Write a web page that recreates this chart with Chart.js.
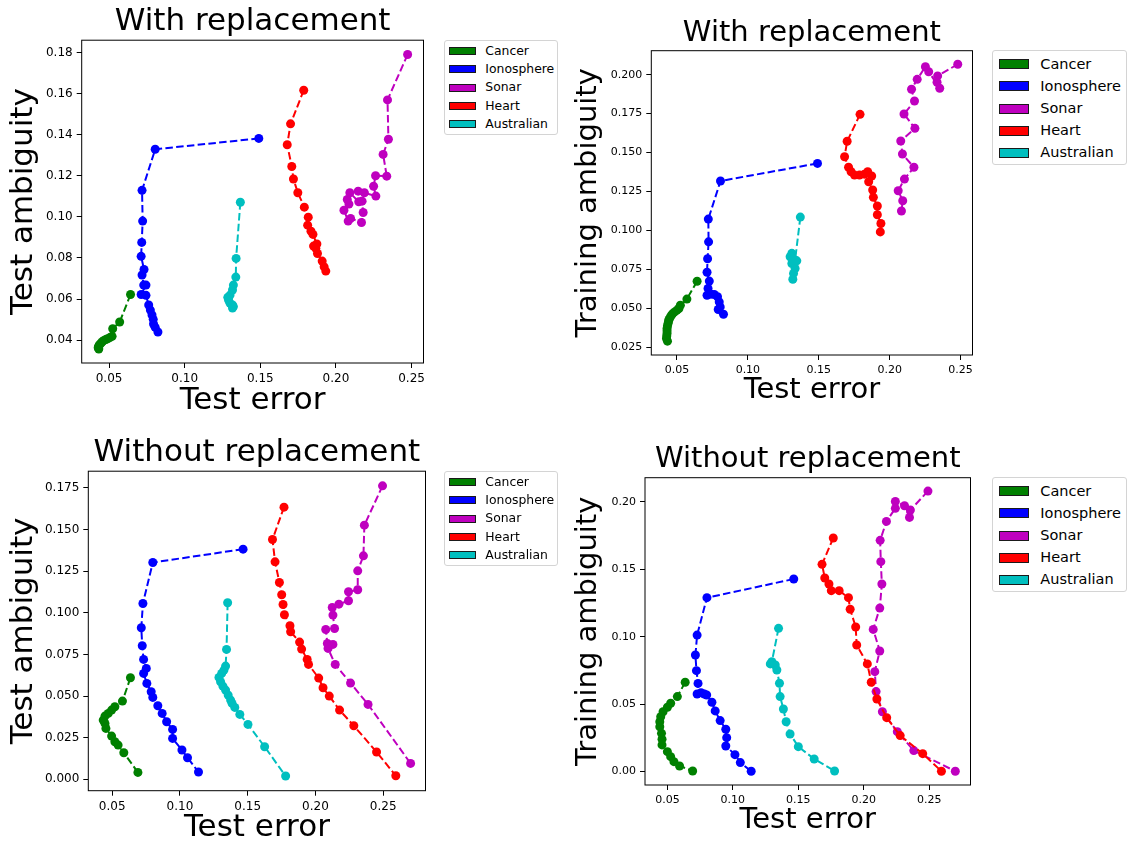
<!DOCTYPE html>
<html>
<head>
<meta charset="utf-8">
<script src="https://cdn.jsdelivr.net/npm/chart.js@4.4.1/dist/chart.umd.min.js"></script>
<style>
    body { margin: 0; background: #fff; overflow: hidden; width: 1127px; height: 842px; position: relative; font-family: "DejaVu Sans", sans-serif; }
    canvas { position: absolute; }
    .legend { position: absolute; box-sizing: border-box; border: 1px solid #d4d4d4; border-radius: 3px; background: rgba(255, 255, 255, 0.8); }
    .legend .swatch { position: absolute; box-sizing: border-box; border: 1px solid #1a1a1a; }
    .legend .name { position: absolute; white-space: nowrap; color: #000; }
</style>
</head>
<body>
<canvas id="withTest" width="428" height="430" style="left:0px;top:0px"></canvas>
<canvas id="withTrain" width="417" height="430" style="left:560px;top:0px"></canvas>
<canvas id="withoutTest" width="430" height="430" style="left:0px;top:420px"></canvas>
<canvas id="withoutTrain" width="420" height="430" style="left:555px;top:420px"></canvas>
<div id="legends"></div>
<script>
const seriesNames = ['Cancer', 'Ionosphere', 'Sonar', 'Heart', 'Australian'];
const seriesColors = ['#008000', '#0000ff', '#bf00bf', '#ff0000', '#00bfbf'];

// with replacement: test error vs test ambiguity
const wrTestCancer = [[0.0642,0.0622],[0.0570,0.0488],[0.0524,0.0455],[0.0520,0.0418],[0.0505,0.0412],[0.0490,0.0406],[0.0478,0.0402],[0.0466,0.0398],[0.0455,0.0392],[0.0448,0.0386],[0.0440,0.0380],[0.0434,0.0374],[0.0430,0.0368],[0.0428,0.0362],[0.0432,0.0356]];
const wrTestIono = [[0.1490,0.1383],[0.0805,0.1330],[0.0718,0.1130],[0.0722,0.0980],[0.0716,0.0876],[0.0712,0.0808],[0.0731,0.0744],[0.0718,0.0717],[0.0729,0.0668],[0.0744,0.0668],[0.0712,0.0622],[0.0744,0.0618],[0.0762,0.0571],[0.0773,0.0546],[0.0784,0.0522],[0.0792,0.0501],[0.0794,0.0478],[0.0805,0.0462],[0.0823,0.0439]];
const wrTestSonar = [[0.2474,0.1792],[0.2341,0.1571],[0.2347,0.1379],[0.2312,0.1305],[0.2336,0.1199],[0.2262,0.1201],[0.2249,0.1150],[0.2264,0.1102],[0.2188,0.1118],[0.2147,0.1126],[0.2173,0.1077],[0.2180,0.1022],[0.2169,0.0973],[0.2097,0.0993],[0.2081,0.0980],[0.2053,0.1033],[0.2086,0.1063],[0.2075,0.1085],[0.2092,0.1118],[0.2151,0.1074]];
const wrTestHeart = [[0.1787,0.1618],[0.1700,0.1454],[0.1678,0.1352],[0.1708,0.1246],[0.1719,0.1185],[0.1748,0.1118],[0.1791,0.1048],[0.1817,0.0999],[0.1813,0.0960],[0.1835,0.0931],[0.1848,0.0915],[0.1874,0.0868],[0.1852,0.0858],[0.1867,0.0847],[0.1878,0.0822],[0.1909,0.0785],[0.1922,0.0757],[0.1933,0.0736]];
const wrTestAus = [[0.1368,0.1072],[0.1340,0.0798],[0.1338,0.0707],[0.1322,0.0668],[0.1316,0.0644],[0.1300,0.0619],[0.1285,0.0608],[0.1290,0.0595],[0.1300,0.0579],[0.1316,0.0571],[0.1322,0.0563],[0.1316,0.0556]];

// with replacement: test error vs training ambiguity
const wrTrainCancer = [[0.0642,0.0673],[0.0570,0.0558],[0.0524,0.0519],[0.0514,0.0498],[0.0500,0.0487],[0.0484,0.0476],[0.0470,0.0465],[0.0461,0.0455],[0.0452,0.0441],[0.0444,0.0427],[0.0440,0.0414],[0.0437,0.0401],[0.0433,0.0385],[0.0430,0.0369],[0.0430,0.0353],[0.0430,0.0337],[0.0428,0.0321],[0.0426,0.0305],[0.0433,0.0288]];
const wrTrainIono = [[0.1491,0.1430],[0.0807,0.1317],[0.0721,0.1072],[0.0723,0.0926],[0.0716,0.0817],[0.0712,0.0731],[0.0728,0.0674],[0.0719,0.0627],[0.0712,0.0583],[0.0740,0.0590],[0.0763,0.0588],[0.0786,0.0573],[0.0798,0.0540],[0.0805,0.0508],[0.0791,0.0491],[0.0828,0.0461]];
const wrTrainSonar = [[0.2480,0.2067],[0.2338,0.1992],[0.2334,0.1951],[0.2353,0.1913],[0.2275,0.2019],[0.2252,0.2051],[0.2194,0.1970],[0.2154,0.1906],[0.2175,0.1831],[0.2101,0.1747],[0.2178,0.1655],[0.2078,0.1574],[0.2090,0.1490],[0.2171,0.1405],[0.2104,0.1329],[0.2060,0.1254],[0.2092,0.1190],[0.2083,0.1124]];
const wrTrainHeart = [[0.1791,0.1745],[0.1700,0.1572],[0.1682,0.1473],[0.1710,0.1405],[0.1728,0.1376],[0.1752,0.1355],[0.1787,0.1355],[0.1822,0.1361],[0.1845,0.1376],[0.1873,0.1349],[0.1852,0.1312],[0.1880,0.1259],[0.1885,0.1212],[0.1913,0.1156],[0.1913,0.1100],[0.1938,0.1044],[0.1934,0.0990]];
const wrTrainAus = [[0.1370,0.1085],[0.1333,0.0809],[0.1345,0.0804],[0.1310,0.0852],[0.1298,0.0830],[0.1310,0.0787],[0.1333,0.0755],[0.1322,0.0723],[0.1317,0.0686]];

// without replacement: test error vs test ambiguity
const worTestCancer = [[0.0635,0.0610],[0.0576,0.0470],[0.0520,0.0436],[0.0496,0.0416],[0.0471,0.0396],[0.0447,0.0380],[0.0434,0.0356],[0.0447,0.0336],[0.0454,0.0306],[0.0496,0.0260],[0.0520,0.0226],[0.0544,0.0206],[0.0586,0.0160],[0.0690,0.0042]];
const worTestIono = [[0.1466,0.1382],[0.0800,0.1302],[0.0727,0.1056],[0.0715,0.0910],[0.0722,0.0802],[0.0732,0.0720],[0.0752,0.0666],[0.0732,0.0636],[0.0756,0.0576],[0.0788,0.0526],[0.0800,0.0492],[0.0837,0.0442],[0.0869,0.0396],[0.0902,0.0346],[0.0946,0.0300],[0.0946,0.0246],[0.1015,0.0176],[0.1056,0.0130],[0.1137,0.0044]];
const worTestSonar = [[0.2495,0.1762],[0.2361,0.1526],[0.2354,0.1342],[0.2312,0.1252],[0.2312,0.1138],[0.2244,0.1126],[0.2244,0.1072],[0.2173,0.1052],[0.2124,0.1032],[0.2129,0.0986],[0.2141,0.0906],[0.2076,0.0900],[0.2088,0.0816],[0.2129,0.0810],[0.2093,0.0786],[0.2146,0.0690],[0.2259,0.0578],[0.2388,0.0450],[0.2702,0.0096]];
const worTestHeart = [[0.1768,0.1634],[0.1683,0.1440],[0.1702,0.1306],[0.1734,0.1182],[0.1751,0.1108],[0.1761,0.1050],[0.1771,0.0988],[0.1812,0.0922],[0.1817,0.0886],[0.1883,0.0824],[0.1898,0.0782],[0.1939,0.0720],[0.1949,0.0690],[0.2024,0.0608],[0.2056,0.0550],[0.2102,0.0500],[0.2178,0.0416],[0.2283,0.0322],[0.2451,0.0164],[0.2593,0.0022]];
const worTestAus = [[0.1352,0.1060],[0.1344,0.0780],[0.1337,0.0680],[0.1325,0.0656],[0.1308,0.0636],[0.1288,0.0612],[0.1300,0.0586],[0.1317,0.0560],[0.1337,0.0536],[0.1356,0.0506],[0.1374,0.0476],[0.1385,0.0456],[0.1405,0.0432],[0.1442,0.0390],[0.1502,0.0330],[0.1625,0.0196],[0.1780,0.0020]];

// without replacement: test error vs training ambiguity
const worTrainCancer = [[0.0636,0.0662],[0.0576,0.0556],[0.0525,0.0507],[0.0500,0.0477],[0.0467,0.0444],[0.0449,0.0407],[0.0442,0.0370],[0.0442,0.0333],[0.0455,0.0284],[0.0459,0.0240],[0.0459,0.0198],[0.0500,0.0148],[0.0525,0.0111],[0.0550,0.0074],[0.0593,0.0042],[0.0693,0.0005]];
const worTrainIono = [[0.1465,0.1427],[0.0802,0.1289],[0.0727,0.1012],[0.0714,0.0864],[0.0722,0.0748],[0.0734,0.0654],[0.0727,0.0575],[0.0757,0.0585],[0.0782,0.0575],[0.0800,0.0568],[0.0840,0.0514],[0.0865,0.0450],[0.0903,0.0378],[0.0946,0.0314],[0.0953,0.0252],[0.0946,0.0190],[0.1016,0.0126],[0.1057,0.0067],[0.1140,0.0003]];
const worTrainSonar = [[0.2490,0.2079],[0.2356,0.1938],[0.2349,0.1884],[0.2311,0.1970],[0.2241,0.2002],[0.2241,0.1951],[0.2173,0.1854],[0.2125,0.1714],[0.2130,0.1556],[0.2138,0.1390],[0.2122,0.1212],[0.2072,0.1054],[0.2122,0.0894],[0.2084,0.0741],[0.2094,0.0593],[0.2142,0.0444],[0.2256,0.0296],[0.2382,0.0156],[0.2699,0.0003]];
const worTrainHeart = [[0.1767,0.1731],[0.1681,0.1536],[0.1702,0.1435],[0.1734,0.1390],[0.1752,0.1341],[0.1812,0.1341],[0.1883,0.1289],[0.1896,0.1203],[0.1938,0.1072],[0.1946,0.0938],[0.2027,0.0798],[0.2057,0.0662],[0.2100,0.0538],[0.2175,0.0400],[0.2278,0.0267],[0.2450,0.0133],[0.2593,0.0003]];
const worTrainAus = [[0.1349,0.1062],[0.1298,0.0815],[0.1286,0.0798],[0.1324,0.0790],[0.1336,0.0753],[0.1356,0.0655],[0.1361,0.0556],[0.1386,0.0464],[0.1407,0.0370],[0.1437,0.0279],[0.1500,0.0185],[0.1621,0.0094],[0.1777,0.0005]];

Chart.defaults.font.family = "'DejaVu Sans', sans-serif";
Chart.defaults.color = '#000';

// box around each axes area, drawn over the lines like matplotlib spines
const framePlugin = {
    id: 'frame',
    afterDatasetsDraw: function(chart) {
        const a = chart.chartArea;
        const c = chart.ctx;
        c.save();
        c.strokeStyle = '#000';
        c.lineWidth = 1;
        c.strokeRect(a.left, a.top, a.right - a.left, a.bottom - a.top);
        c.restore();
    }
};

function RenderPanel(canvasId, series, cfg) {
    const ctx = document.getElementById(canvasId);

    const datasets = series.map(function(points, i) {
        return {
            label: seriesNames[i],
            data: points.map(function(p) { return { x: p[0], y: p[1] }; }),
            showLine: true,
            borderColor: seriesColors[i],
            backgroundColor: seriesColors[i],
            borderWidth: 2,
            borderDash: [7.5, 3.3],
            pointRadius: 4.5,
            pointHoverRadius: 4.5,
            pointBorderWidth: 0,
            order: series.length - i
        };
    });

    return new Chart(ctx, {
        type: 'scatter',
        data: { datasets: datasets },
        options: {
            responsive: false,
            animation: false,
            events: [],
            layout: { padding: cfg.padding },
            plugins: {
                legend: { display: false },
                tooltip: { enabled: false },
                title: {
                    display: true,
                    text: cfg.title,
                    fullSize: false,
                    color: '#000',
                    font: { size: cfg.bigFont, weight: 'normal' },
                    padding: cfg.titlePad
                }
            },
            scales: {
                x: {
                    type: 'linear',
                    min: cfg.xRange[0],
                    max: cfg.xRange[1],
                    border: { display: false },
                    grid: { drawOnChartArea: false, drawTicks: true, tickLength: 5, color: '#000' },
                    ticks: {
                        stepSize: 0.05,
                        includeBounds: false,
                        maxRotation: 0,
                        padding: 4,
                        color: '#000',
                        font: { size: cfg.tickFont },
                        callback: function(value) { return value.toFixed(2); }
                    },
                    title: {
                        display: true,
                        text: 'Test error',
                        color: '#000',
                        font: { size: cfg.bigFont },
                        padding: { top: 0, bottom: 0 }
                    },
                    afterFit: function(scale) {
                        scale.height = cfg.xHeight;
                        scale.paddingLeft = 0;
                        scale.paddingRight = 0;
                    }
                },
                y: {
                    type: 'linear',
                    min: cfg.yRange[0],
                    max: cfg.yRange[1],
                    border: { display: false },
                    grid: { drawOnChartArea: false, drawTicks: true, tickLength: 5, color: '#000' },
                    ticks: {
                        stepSize: cfg.yStep,
                        includeBounds: false,
                        padding: 4,
                        color: '#000',
                        font: { size: cfg.tickFont },
                        callback: function(value) { return value.toFixed(cfg.yDigits); }
                    },
                    title: {
                        display: true,
                        text: cfg.yTitle,
                        color: '#000',
                        font: { size: cfg.bigFont },
                        padding: { top: cfg.yTitlePad, bottom: 0 }
                    },
                    afterFit: function(scale) {
                        scale.width = cfg.yWidth;
                        scale.paddingTop = 0;
                        scale.paddingBottom = 0;
                    }
                }
            }
        },
        plugins: [framePlugin]
    });
}

function RenderLegend(box) {
    const el = document.createElement('div');
    el.className = 'legend';
    el.style.left = box.left + 'px';
    el.style.top = box.top + 'px';
    el.style.width = box.width + 'px';
    el.style.height = box.height + 'px';
    seriesNames.forEach(function(name, i) {
        const cy = box.firstRow + i * box.rowStep;
        const sw = document.createElement('div');
        sw.className = 'swatch';
        sw.style.left = box.swatchX + 'px';
        sw.style.top = (cy - box.swatchH / 2) + 'px';
        sw.style.width = box.swatchW + 'px';
        sw.style.height = box.swatchH + 'px';
        sw.style.background = seriesColors[i];
        el.appendChild(sw);
        const label = document.createElement('div');
        label.className = 'name';
        label.textContent = name;
        label.style.left = box.textX + 'px';
        label.style.top = (cy - box.font / 2) + 'px';
        label.style.fontSize = box.font + 'px';
        label.style.lineHeight = box.font + 'px';
        el.appendChild(label);
    });
    document.getElementById('legends').appendChild(el);
}

RenderPanel('withTest', [wrTestCancer, wrTestIono, wrTestSonar, wrTestHeart, wrTestAus], {
    title: 'With replacement', yTitle: 'Test ambiguity',
    xRange: [0.0319, 0.2579], yRange: [0.0288, 0.1862], yStep: 0.02, yDigits: 2,
    bigFont: 31, tickFont: 12,
    padding: { left: 0, right: 1, top: 0, bottom: 10.4 },
    titlePad: { top: 3, bottom: 0 }, xHeight: 56.6, yWidth: 81.7, yTitlePad: 5.7
});
RenderPanel('withTrain', [wrTrainCancer, wrTrainIono, wrTrainSonar, wrTrainHeart, wrTrainAus], {
    title: 'With replacement', yTitle: 'Training ambiguity',
    xRange: [0.0319, 0.2584], yRange: [0.0199, 0.2154], yStep: 0.025, yDigits: 3,
    bigFont: 29, tickFont: 11,
    padding: { left: 0, right: 1, top: 0, bottom: 22.6 },
    titlePad: { top: 15.9, bottom: 0 }, xHeight: 52.4, yWidth: 91.3, yTitlePad: 10.6
});
RenderPanel('withoutTest', [worTestCancer, worTestIono, worTestSonar, worTestHeart, worTestAus], {
    title: 'Without replacement', yTitle: 'Test ambiguity',
    xRange: [0.0324, 0.2812], yRange: [-0.0068, 0.185], yStep: 0.025, yDigits: 3,
    bigFont: 31, tickFont: 12,
    padding: { left: 0, right: 1.7, top: 0, bottom: 3.8 },
    titlePad: { top: 14, bottom: 0 }, xHeight: 55.5, yWidth: 88.3, yTitlePad: 5.7
});
RenderPanel('withoutTrain', [worTrainCancer, worTrainIono, worTrainSonar, worTrainHeart, worTrainAus], {
    title: 'Without replacement', yTitle: 'Training ambiguity',
    xRange: [0.0329, 0.2815], yRange: [-0.0099, 0.2178], yStep: 0.05, yDigits: 2,
    bigFont: 29, tickFont: 11,
    padding: { left: 0, right: 1, top: 0, bottom: 12.6 },
    titlePad: { top: 21.9, bottom: 1 }, xHeight: 52.4, yWidth: 90, yTitlePad: 15.6
});

const smallLegend = { width: 114, height: 95, font: 12.4, firstRow: 10, rowStep: 18.3, swatchX: 4.3, swatchW: 26.7, swatchH: 8, textX: 40.3 };
const largeLegend = { width: 135, height: 115, font: 14.5, firstRow: 13.3, rowStep: 22.1, swatchX: 6, swatchW: 30, swatchH: 10, textX: 47.6 };
RenderLegend(Object.assign({ left: 444, top: 40 }, smallLegend));
RenderLegend(Object.assign({ left: 991.7, top: 50 }, largeLegend));
RenderLegend(Object.assign({ left: 444, top: 471 }, smallLegend));
RenderLegend(Object.assign({ left: 991.7, top: 477 }, largeLegend));
</script>
</body>
</html>
